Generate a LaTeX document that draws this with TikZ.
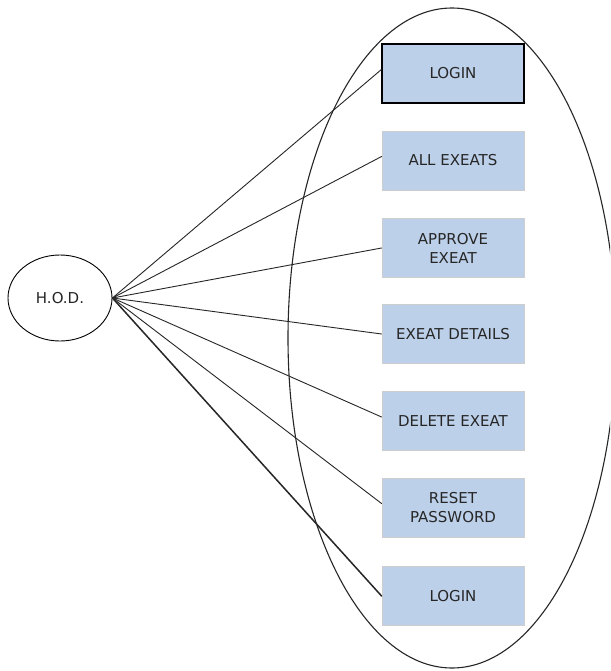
\documentclass[tikz,border=0pt]{standalone}
\usepackage{fontspec}
\setmainfont{DejaVu Sans}
\usepackage{xcolor}
\usepackage{tikz}
\usetikzlibrary{shapes.geometric}
\definecolor{boxfill}{HTML}{BDD0E9}
\definecolor{boxedge}{HTML}{CDCDCD}
\definecolor{ink}{HTML}{262626}
\tikzset{
  usecase/.style={draw=boxedge, fill=boxfill, line width=0.9pt, minimum width=142pt, minimum height=59pt,
    align=center, text=ink, font=\fontsize{15}{19}\selectfont},
  firstcase/.style={usecase, draw=black, line width=1.2pt},
  actor/.style={draw=black, ellipse, line width=0.9pt, minimum width=104pt, minimum height=86pt,
    text=ink, font=\fontsize{15}{19}\selectfont},
  link/.style={draw=black!85, line width=0.9pt, line cap=round},
  boldlink/.style={link, line width=1.5pt},
  sysbound/.style={draw=black!85, line width=1.1pt}
}

\begin{document}
\begin{tikzpicture}[x=1pt,y=-1pt]
  \useasboundingbox (0,0) rectangle (610,671);
  \clip (0,0) rectangle (610,671);
  \fill[white] (0,0) rectangle (610,671);
  % system boundary
  \draw[sysbound] (452,338) ellipse (164 and 330);
  \node[actor] (hod) at (60,298) {H.O.D.};
  \node[firstcase] (login) at (453,73.5) {LOGIN};
  \node[usecase] (all) at (453,160.5) {ALL EXEATS};
  \node[usecase] (approve) at (453,248) {APPROVE\\EXEAT};
  \node[usecase] (details) at (453,334) {EXEAT DETAILS};
  \node[usecase] (delete) at (453,421) {DELETE EXEAT};
  \node[usecase] (reset) at (453,507.5) {RESET\\PASSWORD};
  \node[usecase] (logout) at (453,596) {LOGIN};
  \draw[link] (hod.east) -- ([yshift=4pt]login.west);
  \draw[link] (hod.east) -- ([yshift=4pt]all.west);
  \draw[link] (hod.east) -- (approve.west);
  \draw[link] (hod.east) -- (details.west);
  \draw[link] (hod.east) -- ([yshift=4pt]delete.west);
  \draw[link] (hod.east) -- ([yshift=4pt]reset.west);
  \draw[boldlink] (hod.east) -- (logout.west);
\end{tikzpicture}
\end{document}
